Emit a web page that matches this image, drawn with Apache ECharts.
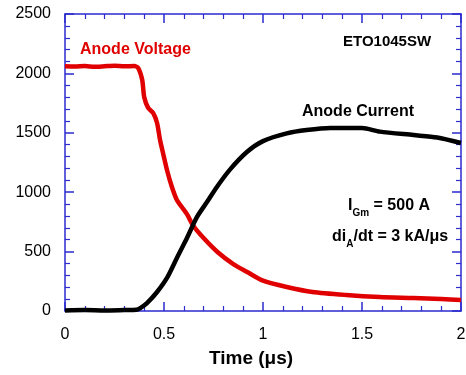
<!DOCTYPE html>
<html><head><meta charset="utf-8">
<script src="https://cdn.jsdelivr.net/npm/echarts@6/dist/echarts.min.js"></script>
<style>html,body{margin:0;padding:0;background:#fff}#c{width:466px;height:375px}</style>
</head><body><div id="c"></div>
<script>
const xTicks = [0, 0.5, 1, 1.5, 2];
const yTicks = [0, 500, 1000, 1500, 2000, 2500];
const voltT = [0, 0.05, 0.1, 0.15, 0.2, 0.25, 0.3, 0.35, 0.37, 0.39, 0.40, 0.42, 0.445, 0.465, 0.48, 0.495, 0.515, 0.54, 0.565, 0.59, 0.616, 0.647, 0.70, 0.77, 0.85, 0.92, 1.0, 1.12, 1.25, 1.42, 1.59, 1.76, 1.9, 2.0];
const voltV = [2060, 2058, 2062, 2056, 2060, 2064, 2060, 2062, 2045, 1944, 1801, 1709, 1667, 1582, 1439, 1330, 1187, 1044, 935, 875, 815, 720, 614, 497, 395, 328, 255, 202, 160, 135, 118, 109, 100, 93];
const currT = [0, 0.1, 0.2, 0.3, 0.36, 0.38, 0.414, 0.465, 0.515, 0.565, 0.616, 0.666, 0.717, 0.767, 0.833, 0.92, 1.0, 1.12, 1.22, 1.34, 1.5, 1.59, 1.76, 1.88, 2.0];
const currV = [5, 8, 5, 8, 10, 25, 67, 160, 278, 446, 614, 790, 917, 1044, 1190, 1340, 1430, 1495, 1523, 1540, 1540, 1510, 1481, 1460, 1414];

const voltData = voltT.map((t, i) => [t, voltV[i]]);
const currData = currT.map((t, i) => [t, currV[i]]);
const blue = '#2b2bd0';
const F = 'Liberation Sans, Arial, sans-serif';

const chart = echarts.init(document.getElementById('c'));
const ac = (onZero) => ({
  axisLine: {show: true, onZero: onZero, lineStyle: {color: blue, width: 1.5}},
  axisTick: {show: true, inside: true, length: 9, lineStyle: {color: blue, width: 1.5}},
  minorTick: {show: true, splitNumber: 5, length: 5, lineStyle: {color: blue, width: 1.2}},
  splitLine: {show: false}
});
chart.setOption({
  animation: false,
  grid: {left: 65, right: 5, top: 14, bottom: 64, outerBoundsMode: 'none'},
  xAxis: [
    Object.assign({type: 'value', min: xTicks[0], max: xTicks[xTicks.length - 1], interval: 0.5, position: 'bottom',
      axisLabel: {margin: 16, fontFamily: F, fontSize: 16, color: '#000', formatter: v => String(v)}}, ac(true)),
    Object.assign({type: 'value', min: 0, max: 2, interval: 0.5, position: 'top', axisLabel: {show: false}}, ac(false))
  ],
  yAxis: [
    Object.assign({type: 'value', min: yTicks[0], max: yTicks[yTicks.length - 1], interval: 500, position: 'left',
      axisLabel: {margin: 14, fontFamily: F, fontSize: 16, color: '#000', formatter: v => String(v)}}, ac(true)),
    Object.assign({type: 'value', min: 0, max: 2500, interval: 500, position: 'right', axisLabel: {show: false}}, ac(false))
  ],
  series: [
    {type: 'line', data: voltData, showSymbol: false, smooth: 0.25, lineStyle: {color: '#e00000', width: 4.5}},
    {type: 'line', data: currData, showSymbol: false, smooth: 0.25, lineStyle: {color: '#000', width: 4.5}}
  ],
  graphic: [
    {type: 'text', left: 209, top: 349, style: {text: 'Time (μs)', fill: '#000', font: 'bold 19px ' + F}},
    {type: 'text', left: 80, top: 42, style: {text: 'Anode Voltage', fill: '#e00000', font: 'bold 16px ' + F}},
    {type: 'text', left: 343, top: 34, style: {text: 'ETO1045SW', fill: '#000', font: 'bold 15px ' + F}},
    {type: 'text', left: 302, top: 104, style: {text: 'Anode Current', fill: '#000', font: 'bold 16px ' + F}},
    {type: 'text', left: 348, top: 198, style: {
      rich: {m: {font: 'bold 16px ' + F, fill: '#000'}, s: {font: 'bold 10px ' + F, fill: '#000', padding: [15, 0, 0, 0]}},
      text: '{m|I}{s|Gm}{m| = 500 A}'}},
    {type: 'text', left: 332, top: 229, style: {
      rich: {m: {font: 'bold 16px ' + F, fill: '#000'}, s: {font: 'bold 10px ' + F, fill: '#000', padding: [15, 0, 0, 0]}},
      text: '{m|di}{s|A}{m|/dt = 3 kA/μs}'}}
  ]
});
</script></body></html>
